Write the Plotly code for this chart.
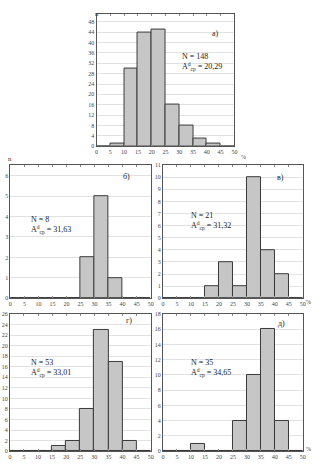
import plotly.graph_objects as go

bin_centers = [2.5, 7.5, 12.5, 17.5, 22.5, 27.5, 32.5, 37.5, 42.5, 47.5]
x_ticks = [0, 5, 10, 15, 20, 25, 30, 35, 40, 45, 50]

counts_a = [0, 1, 30, 44, 45, 16, 8, 3, 1, 0]
counts_b = [0, 0, 0, 0, 0, 2, 5, 1, 0, 0]
counts_v = [0, 0, 0, 1, 3, 1, 10, 4, 2, 0]
counts_g = [0, 0, 0, 1, 2, 8, 23, 17, 2, 0]
counts_d = [0, 0, 1, 0, 0, 4, 10, 16, 4, 0]

panel_labels = ["а)", "б)", "в)", "г)", "д)"]
n_values = [148, 8, 21, 53, 35]
a_means = ["20,29", "31,63", "31,32", "33,01", "34,65"]

y_ticks_a = list(range(0, 49, 4))
y_ticks_b = list(range(0, 7, 1))
y_ticks_v = list(range(0, 12, 1))
y_ticks_g = list(range(0, 27, 2))
y_ticks_d = list(range(0, 19, 2))

W, H = 326, 470
FONT = "Liberation Serif"

panels = [
    # counts, yticks, yrange, box (x0,x1,y0,y1 in px), label pos, N pos
    dict(c=counts_a, yt=y_ticks_a, yr=51.2, box=(96, 236, 10.7, 145), lab=(222, 24), np=(181, 60)),
    dict(c=counts_b, yt=y_ticks_b, yr=6.52, box=(8.5, 151, 164.3, 299), lab=(126, 176), np=(27, 225)),
    dict(c=counts_v, yt=y_ticks_v, yr=11.0, box=(163.5, 305.5, 164.3, 299), lab=(288, 177), np=(190, 221)),
    dict(c=counts_g, yt=y_ticks_g, yr=26.0, box=(8, 151, 315, 454), lab=(129, 328), np=(27, 370)),
    dict(c=counts_d, yt=y_ticks_d, yr=18.0, box=(163.5, 305.5, 315, 454), lab=(289, 331), np=(190, 370)),
]

fig = go.Figure()
annotations = []
layout = {}
for i, p in enumerate(panels):
    k = "" if i == 0 else str(i + 1)
    x0, x1, y0, y1 = p["box"]
    fig.add_trace(go.Bar(
        x=bin_centers, y=p["c"], width=5,
        marker=dict(color="#c6c6c6", line=dict(color="#3a3a3a", width=1)),
        xaxis="x" + k, yaxis="y" + k, showlegend=False,
    ))
    layout["xaxis" + k] = dict(
        domain=[x0 / W, x1 / W], anchor="y" + k, range=[0, 50],
        tickvals=x_ticks, ticktext=[str(t) for t in x_ticks],
        showgrid=False, zeroline=False, showline=True, mirror="ticks",
        linecolor="#555", linewidth=1, ticks="inside", ticklen=2, tickcolor="#888",
        tickfont=dict(family=FONT, size=6, color="#444"),
    )
    layout["yaxis" + k] = dict(
        domain=[1 - y1 / H, 1 - y0 / H], anchor="x" + k, range=[0, p["yr"]],
        tickvals=p["yt"], showgrid=True, gridcolor="#e2e2e2", gridwidth=1,
        zeroline=False, showline=True, mirror=True,
        linecolor="#555", linewidth=1, ticks="",
        tickfont=dict(family=FONT, size=6, color="#444"),
    )
    annotations.append(dict(x=p["lab"][0] / W, y=1 - p["lab"][1] / H, xref="paper", yref="paper",
                            text=panel_labels[i], showarrow=False,
                            font=dict(family=FONT, size=8, color="#222")))
    annotations.append(dict(x=p["np"][0] / W, y=1 - p["np"][1] / H, xref="paper", yref="paper",
                            xanchor="left", yanchor="middle", align="left",
                            text=f"N = {n_values[i]}<br>A<sup>d</sup><sub>ср</sub> = {a_means[i]}",
                            showarrow=False, font=dict(family=FONT, size=8, color="#222")))

# axis titles
annotations.append(dict(x=92 / W, y=1 - 5 / H, xref="paper", yref="paper", text="n", showarrow=False,
                        font=dict(family=FONT, size=7, color="#333")))
annotations.append(dict(x=4 / W, y=1 - 158 / H, xref="paper", yref="paper", text="n", showarrow=False,
                        font=dict(family=FONT, size=7, color="#333")))
for px, py in [(250, 151), (316, 303), (316, 457)]:
    annotations.append(dict(x=px / W, y=1 - py / H, xref="paper", yref="paper", text="%", showarrow=False,
                            font=dict(family=FONT, size=6, color="#444")))

fig.update_layout(
    width=W, height=H, margin=dict(l=0, r=0, t=0, b=0),
    paper_bgcolor="white", plot_bgcolor="white", bargap=0,
    annotations=annotations, **layout,
)
fig.write_html("out.html")
